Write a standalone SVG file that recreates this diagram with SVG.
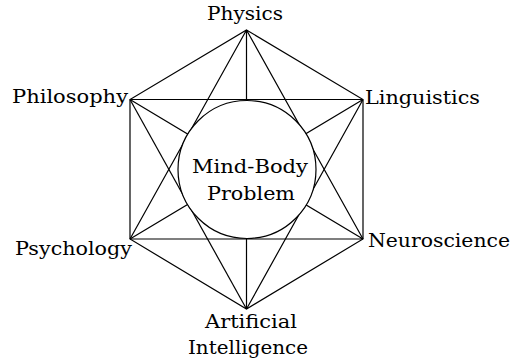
<svg xmlns="http://www.w3.org/2000/svg" width="515" height="364" viewBox="0 0 515 364">
<style>
.lbl{font-family:"DejaVu Serif","Liberation Serif",serif;font-size:19px;fill:#000}
.edge{stroke:#000;stroke-width:1.2;fill:none}
.hub{fill:#fff;stroke:#000;stroke-width:1.2}
</style>
<rect width="515" height="364" fill="#fff"/>
<g id="connectors">
<path class="edge" d="M246.5,30L363,99.5L363,239L246.5,309L130,239L130,99.5Z"/>
<path class="edge" d="M246.5,30L363,239M246.5,30L246.5,309M246.5,30L130,239"/>
<path class="edge" d="M363,99.5L246.5,309M363,99.5L130,239M363,99.5L130,99.5"/>
<path class="edge" d="M363,239L130,239M363,239L130,99.5"/>
<path class="edge" d="M246.5,309L130,99.5"/>
</g>
<g id="physics"><text class="lbl" x="207" y="20" textLength="76" lengthAdjust="spacingAndGlyphs">Physics</text></g>
<g id="linguistics"><text class="lbl" x="365" y="104" textLength="115" lengthAdjust="spacingAndGlyphs">Linguistics</text></g>
<g id="neuroscience"><text class="lbl" x="368" y="247" textLength="142" lengthAdjust="spacingAndGlyphs">Neuroscience</text></g>
<g id="ai"><text class="lbl" x="205" y="328" textLength="92" lengthAdjust="spacingAndGlyphs">Artificial</text><text class="lbl" x="188" y="354" textLength="120" lengthAdjust="spacingAndGlyphs">Intelligence</text></g>
<g id="psychology"><text class="lbl" x="15" y="255" textLength="117" lengthAdjust="spacingAndGlyphs">Psychology</text></g>
<g id="philosophy"><text class="lbl" x="12" y="103" textLength="116" lengthAdjust="spacingAndGlyphs">Philosophy</text></g>
<g id="mind-body">
<circle class="hub" cx="247" cy="169.5" r="69"/>
<text class="lbl" x="192" y="173" textLength="116" lengthAdjust="spacingAndGlyphs">Mind-Body</text>
<text class="lbl" x="207" y="200" textLength="88" lengthAdjust="spacingAndGlyphs">Problem</text>
</g>
</svg>
